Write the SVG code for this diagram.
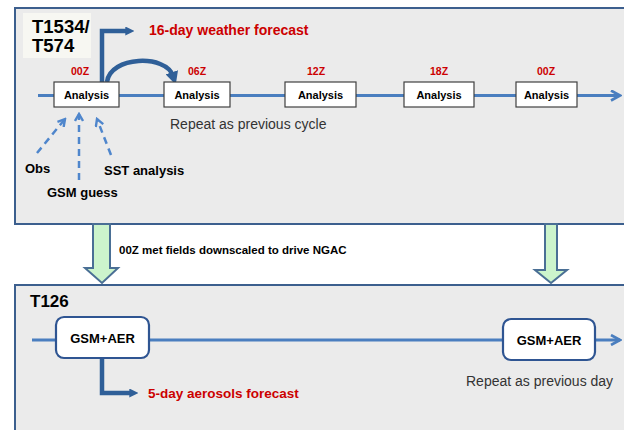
<svg xmlns="http://www.w3.org/2000/svg" width="624" height="430" viewBox="0 0 624 430">
<style>
text{font-family:"Liberation Sans",Arial,sans-serif}
.panel{fill:#ebebeb;stroke:#3c5f8e;stroke-width:2}
.box{fill:#ffffff;stroke:#404040;stroke-width:1.2}
.rbox{fill:#ffffff;stroke:#2f5592;stroke-width:2.2}
.lbl{font-weight:bold;font-size:11px;fill:#000;text-anchor:middle}
.time{font-weight:bold;font-size:10.5px;fill:#cc0000;text-anchor:middle}
.red{font-weight:bold;fill:#cc0000}
.blk{font-weight:bold;fill:#000}
.note{font-size:14px;fill:#333}
.line{fill:none;stroke:#4a7ebf;stroke-width:3}
.dash{fill:none;stroke:#4f86cc;stroke-width:2.5;stroke-dasharray:7,5}
.thick{fill:none;stroke:#2f5f98;stroke-width:4.5}
.green{fill:#ccf4cc;stroke:#4a6f95;stroke-width:2}
</style>
<defs>
<marker id="chev" viewBox="0 0 12 12" refX="10" refY="6" markerWidth="12" markerHeight="12" markerUnits="userSpaceOnUse" orient="auto">
<path d="M1,1 L10,6 L1,11" fill="none" stroke="#4a7ebf" stroke-width="2.6"/>
</marker>
<marker id="dchev" viewBox="0 0 10 10" refX="8" refY="5" markerWidth="10" markerHeight="10" markerUnits="userSpaceOnUse" orient="auto">
<path d="M1,1 L8,5 L1,9" fill="none" stroke="#4f86cc" stroke-width="2.4"/>
</marker>
<marker id="tri" viewBox="0 0 10 10" refX="3" refY="5" markerWidth="9" markerHeight="9" markerUnits="userSpaceOnUse" orient="auto">
<path d="M0,0 L10,5 L0,10 Z" fill="#2f5f98"/>
</marker>
<marker id="tri2" viewBox="0 0 10 10" refX="3" refY="5" markerWidth="13" markerHeight="13" markerUnits="userSpaceOnUse" orient="auto">
<path d="M0,0 L10,5 L0,10 Z" fill="#2f5f98"/>
</marker>
</defs>
<rect width="624" height="430" fill="#ffffff"/>
<g id="panel-top">
<rect class="panel" x="15" y="8" width="640" height="216"/>
<rect x="23" y="13" width="68" height="45" fill="#f7f7f2"/>
<text class="blk" x="32" y="33" font-size="18.5">T1534/</text>
<text class="blk" x="32" y="52" font-size="18.5">T574</text>
</g>
<g id="panel-bottom">
<rect class="panel" x="15" y="285" width="640" height="200"/>
<text class="blk" x="30" y="307" font-size="17">T126</text>
</g>
<g id="connectors">
<line class="line" x1="38" y1="95.5" x2="620" y2="95.5" marker-end="url(#chev)"/>
<line class="line" x1="32" y1="340" x2="620" y2="340" marker-end="url(#chev)"/>
<path class="thick" d="M102,82 V31 H128" marker-end="url(#tri)"/>
<path class="thick" d="M107,82 C110,56 166,54 173,76" marker-end="url(#tri2)"/>
<path class="dash" d="M37,153 L65,119" marker-end="url(#dchev)"/>
<path class="dash" d="M79,180 L79,114" marker-end="url(#dchev)"/>
<path class="dash" d="M111,155 L97,119" marker-end="url(#dchev)"/>
<path class="thick" d="M102,358 V393 H132" marker-end="url(#tri)"/>
<path class="green" d="M93,224 V268 H85 L102,283 L118,268 H110 V224 Z"/>
<path class="green" d="M545,224 V270 H535 L551,283 L567,270 H557 V224 Z"/>
</g>
<g id="n-00z">
<rect class="box" x="54" y="82" width="65" height="25"/>
<text class="lbl" x="86.5" y="99">Analysis</text>
<text class="time" x="80" y="75">00Z</text>
</g>
<g id="n-06z">
<rect class="box" x="164" y="82" width="66" height="25"/>
<text class="lbl" x="197" y="99">Analysis</text>
<text class="time" x="197" y="75">06Z</text>
</g>
<g id="n-12z">
<rect class="box" x="285" y="82" width="71" height="25"/>
<text class="lbl" x="320.5" y="99">Analysis</text>
<text class="time" x="316" y="75">12Z</text>
</g>
<g id="n-18z">
<rect class="box" x="404" y="82" width="70" height="25"/>
<text class="lbl" x="439" y="99">Analysis</text>
<text class="time" x="439" y="75">18Z</text>
</g>
<g id="n-00z-next">
<rect class="box" x="516" y="82" width="61" height="25"/>
<text class="lbl" x="546.5" y="99">Analysis</text>
<text class="time" x="546" y="75">00Z</text>
</g>
<g id="forecast16">
<text class="red" x="149" y="35" font-size="14">16-day weather forecast</text>
</g>
<g id="repeat-cycle">
<text class="note" x="170" y="129">Repeat as previous cycle</text>
</g>
<g id="obs"><text class="blk" x="25" y="173" font-size="13">Obs</text></g>
<g id="gsm-guess"><text class="blk" x="47" y="197" font-size="13">GSM guess</text></g>
<g id="sst"><text class="blk" x="104" y="175" font-size="13">SST analysis</text></g>
<g id="downscale-label">
<text class="blk" x="119" y="254" font-size="11.5">00Z met fields downscaled to drive NGAC</text>
</g>
<g id="gsm-aer-1">
<rect class="rbox" x="56" y="317" width="93" height="41" rx="8"/>
<text class="blk" x="102.5" y="343" font-size="13" text-anchor="middle">GSM+AER</text>
</g>
<g id="gsm-aer-2">
<rect class="rbox" x="503" y="319" width="92" height="41" rx="8"/>
<text class="blk" x="549" y="345" font-size="13" text-anchor="middle">GSM+AER</text>
</g>
<g id="forecast5">
<text class="red" x="148" y="398" font-size="13.5">5-day aerosols forecast</text>
</g>
<g id="repeat-day">
<text class="note" x="466" y="386">Repeat as previous day</text>
</g>
</svg>
